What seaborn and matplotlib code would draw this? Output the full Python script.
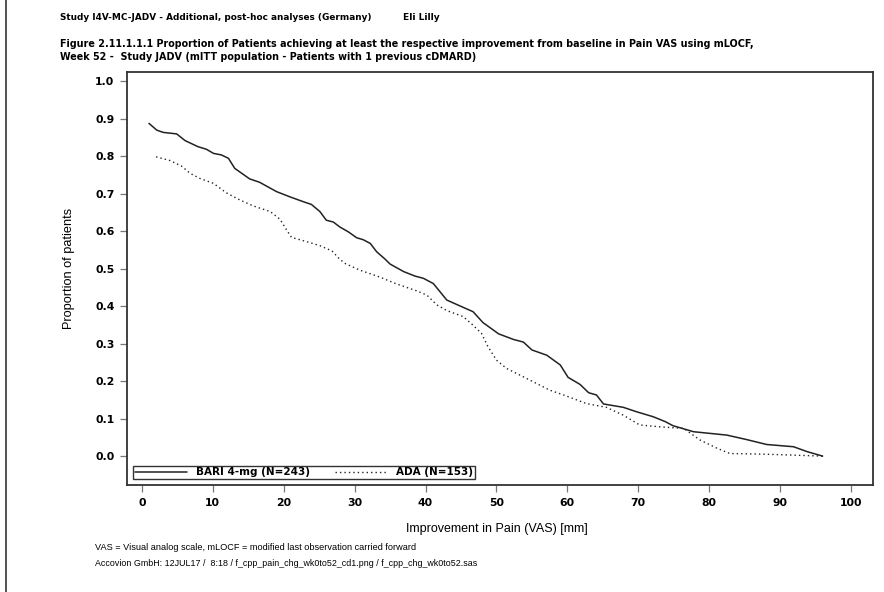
"""Proportion of patients achieving at least the improvement in Pain VAS."""
import numpy as np
import pandas as pd
import seaborn as sns
import matplotlib
matplotlib.use('Agg')
import matplotlib.pyplot as plt
from matplotlib.lines import Line2D

# Curve values.
bari_x = [1.0, 2.1, 3.0, 4.9, 6.1, 7.9, 9.1, 10.1, 11.2, 12.2, 13.1, 15.2,
          16.6, 19.0, 20.9, 22.8, 23.9, 25.1, 26.0, 27.0, 27.9, 29.1, 30.3,
          31.2, 32.2, 33.1, 34.3, 35.0, 36.9, 38.5, 39.7, 41.1, 43.0, 44.9,
          46.7, 48.1, 50.3, 52.4, 53.8, 55.0, 57.1, 59.0, 60.1, 61.8, 63.0,
          64.1, 65.1, 67.9, 69.8, 72.1, 73.8, 74.9, 77.8, 82.5, 85.3, 88.1,
          91.9, 93.8, 96.0]
bari_y = [0.887, 0.869, 0.863, 0.859, 0.841, 0.825, 0.818, 0.807, 0.803,
          0.794, 0.767, 0.739, 0.730, 0.705, 0.691, 0.678, 0.671, 0.652,
          0.629, 0.624, 0.611, 0.598, 0.582, 0.577, 0.567, 0.545, 0.525,
          0.512, 0.492, 0.480, 0.474, 0.460, 0.416, 0.400, 0.385, 0.356,
          0.326, 0.311, 0.304, 0.283, 0.269, 0.243, 0.210, 0.191, 0.169,
          0.163, 0.139, 0.130, 0.118, 0.105, 0.092, 0.081, 0.065, 0.056,
          0.044, 0.031, 0.025, 0.012, 0.0]

ada_x = [2.0, 3.95, 5.6, 6.8, 8.2, 10.1, 11.9, 13.8, 15.7, 18.1, 19.5, 20.4,
         21.1, 23.2, 25.1, 26.8, 27.8, 28.6, 30.7, 33.6, 35.9, 38.7, 40.2,
         41.6, 43.0, 45.3, 46.7, 47.9, 48.8, 50.0, 51.4, 53.3, 55.2, 57.5,
         59.9, 62.7, 65.5, 67.9, 70.2, 73.1, 76.4, 78.7, 81.1, 82.9, 88.1,
         96.0]
ada_y = [0.798, 0.788, 0.773, 0.754, 0.740, 0.727, 0.702, 0.683, 0.667,
         0.652, 0.631, 0.603, 0.583, 0.572, 0.561, 0.547, 0.527, 0.514,
         0.496, 0.477, 0.459, 0.441, 0.429, 0.403, 0.388, 0.372, 0.349,
         0.327, 0.292, 0.256, 0.234, 0.216, 0.198, 0.176, 0.160, 0.140,
         0.130, 0.109, 0.083, 0.078, 0.074, 0.043, 0.021, 0.007, 0.005,
         0.0]

labels = ['BARI 4-mg (N=243)', 'ADA (N=153)']
x_ticks = [0, 10, 20, 30, 40, 50, 60, 70, 80, 90, 100]
y_ticks = [0.0, 0.1, 0.2, 0.3, 0.4, 0.5, 0.6, 0.7, 0.8, 0.9, 1.0]

sns.set_style('ticks')
plt.rcParams['font.family'] = ['Liberation Sans', 'DejaVu Sans']
plt.rcParams['text.color'] = 'black'
plt.rcParams['axes.labelcolor'] = 'black'
plt.rcParams['xtick.labelcolor'] = 'black'
plt.rcParams['ytick.labelcolor'] = 'black'
bold_font = 'DejaVu Sans'

fig = plt.figure(figsize=(8.84, 5.92), dpi=100)
ax = fig.add_axes([127 / 884, 1 - 485 / 592, 746 / 884, 413 / 592])

sns.lineplot(x=bari_x, y=bari_y, ax=ax, color='#222222', linewidth=1.1,
             estimator=None, sort=False)
sns.lineplot(x=ada_x, y=ada_y, ax=ax, color='#222222', linewidth=1.0,
             linestyle=(0, (1, 2.2)), estimator=None, sort=False)

ax.set_xlim(-2.1, 103.1)
ax.set_ylim(-0.077, 1.024)
ax.set_xticks(x_ticks)
ax.set_yticks(y_ticks)
ax.set_xticklabels([str(t) for t in x_ticks], fontweight='bold',
                   fontsize=7.8, family=bold_font)
ax.set_yticklabels(['%.1f' % t for t in y_ticks], fontweight='bold',
                   fontsize=7.8, family=bold_font)
ax.tick_params(direction='out', length=5, width=0.9, color='#777777',
               pad=4)
for sp in ax.spines.values():
    sp.set_visible(True)
    sp.set_color('#333333')
    sp.set_linewidth(1.3)

ax.set_xlabel('Improvement in Pain (VAS) [mm]', fontsize=9)
ax.set_ylabel('Proportion of patients', fontsize=9.2)
ax.xaxis.set_label_coords((497 - 127) / 746, -(523 - 485) / 413)
ax.yaxis.set_label_coords(-(127 - 75) / 746, (485 - 268) / 413)

handles = [Line2D([], [], color='#222222', linewidth=1.1),
           Line2D([], [], color='#222222', linewidth=1.0,
                  linestyle=(0, (1, 2.2)))]
leg = ax.legend(handles, labels, ncol=2, loc='lower left',
                bbox_to_anchor=(6 / 746, 6 / 413), frameon=True,
                fancybox=False, edgecolor='#333333', framealpha=1,
                borderpad=0.15, handlelength=5.0, handletextpad=0.9,
                columnspacing=2.4, borderaxespad=0,
                prop={'weight': 'bold', 'size': 7.5, 'family': bold_font})
leg.get_frame().set_linewidth(1.0)

# Page header and footer.
title_kw = dict(fontsize=6.9, fontweight='bold', va='center',
                family=bold_font)
fig.text(60 / 884, 1 - 17 / 592,
         'Study I4V-MC-JADV - Additional, post-hoc analyses (Germany)',
         fontsize=6.4, fontweight='bold', va='center', family=bold_font)
fig.text(403 / 884, 1 - 17 / 592, 'Eli Lilly', fontsize=6.6,
         fontweight='bold', va='center', family=bold_font)
fig.text(60 / 884, 1 - 44 / 592,
         'Figure 2.11.1.1.1 Proportion of Patients achieving at least the '
         'respective improvement from baseline in Pain VAS using mLOCF,',
         **title_kw)
fig.text(60 / 884, 1 - 57 / 592,
         'Week 52 -  Study JADV (mITT population - Patients with 1 '
         'previous cDMARD)', **title_kw)
fig.text(95 / 884, 1 - 548 / 592,
         'VAS = Visual analog scale, mLOCF = modified last observation '
         'carried forward', fontsize=6.6, va='center')
fig.text(95 / 884, 1 - 564 / 592,
         'Accovion GmbH: 12JUL17 /  8:18 / f_cpp_pain_chg_wk0to52_cd1.png / '
         'f_cpp_chg_wk0to52.sas', fontsize=6.4, va='center')
fig.add_artist(Line2D([6 / 884, 6 / 884], [0, 1], color='#333333',
                      linewidth=1.2))

fig.savefig('out.png', dpi=100)
